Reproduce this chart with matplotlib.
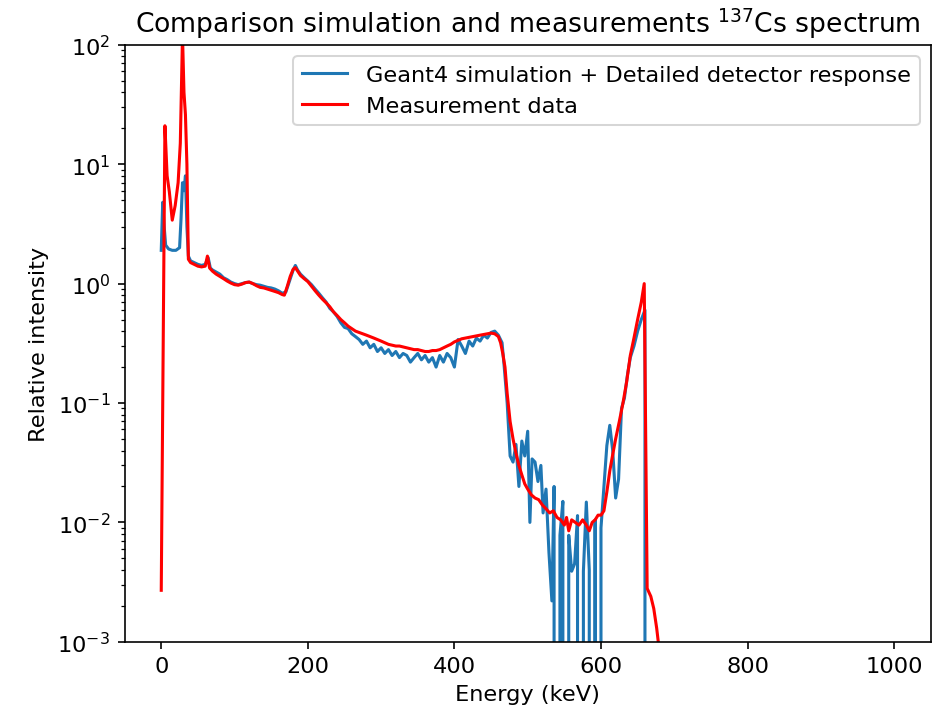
import numpy as np
import matplotlib
matplotlib.use('Agg')
import matplotlib.pyplot as plt

# Geant4 simulation, energy in keV
simEnergy = [0, 2, 4, 6, 10, 15, 20, 25, 27, 29, 31, 33, 35, 37, 40, 45, 50, 55, 60, 64, 67,
             70, 75, 80, 85, 90, 95, 100, 105, 110, 115, 120, 125, 130, 135, 140, 145, 150,
             155, 160, 165, 170, 175, 180, 183, 186, 190, 195, 200, 205, 210, 215, 220, 225,
             230, 235, 240, 245, 250, 255, 260, 265, 270, 275, 280, 285, 290, 295, 300, 305,
             310, 315, 320, 325, 330, 335, 340, 345, 350, 355, 360, 365, 370, 375, 380, 385,
             390, 395, 400, 405, 410, 415, 420, 425, 430, 435, 440, 445, 450, 455, 460, 465,
             468, 472, 476, 480, 484, 488, 492, 496, 500, 503, 506, 510, 514, 518, 521, 525,
             529, 533, 536, 540, 544, 548, 552, 556, 560, 564, 568, 572, 576, 580, 584, 588,
             592, 596, 600, 604, 608, 612, 616, 620, 624, 628, 632, 636, 640, 645, 650, 655,
             660, 663, 1000]
simIntensity = [1.9, 4.8, 3.0, 2.1, 1.95, 1.9, 1.9, 2.0, 3.5, 7.0, 6.0, 8.0, 3.0, 1.7, 1.55,
                1.5, 1.45, 1.42, 1.45, 1.65, 1.35, 1.3, 1.25, 1.2, 1.12, 1.08, 1.03, 1.0, 0.98,
                1.0, 1.02, 1.03, 1.0, 0.98, 0.97, 0.95, 0.93, 0.92, 0.9, 0.87, 0.83, 0.85, 1.05,
                1.3, 1.42, 1.3, 1.2, 1.12, 1.05, 0.98, 0.9, 0.83, 0.76, 0.7, 0.62, 0.58, 0.53,
                0.47, 0.43, 0.42, 0.38, 0.36, 0.34, 0.31, 0.33, 0.29, 0.31, 0.27, 0.29, 0.26,
                0.28, 0.25, 0.27, 0.24, 0.26, 0.25, 0.22, 0.24, 0.26, 0.23, 0.25, 0.22, 0.24,
                0.2, 0.25, 0.22, 0.26, 0.24, 0.2, 0.34, 0.3, 0.26, 0.33, 0.3, 0.35, 0.33, 0.37,
                0.35, 0.39, 0.4, 0.37, 0.32, 0.2, 0.1, 0.036, 0.032, 0.045, 0.02, 0.048, 0.036,
                0.058, 0.01, 0.034, 0.032, 0.022, 0.03, 0.012, 0.019, 0.0056, 0.0022, 0.02, 0,
                0.0078, 0.015, 0, 0.0078, 0.0039, 0.0045, 0.0114, 0, 0.0039, 0.0148, 0.004, 0,
                0.0105, 0, 0.009, 0.02, 0.044, 0.065, 0.04, 0.016, 0.023, 0.09, 0.11, 0.17,
                0.24, 0.3, 0.4, 0.5, 0.6, 0, 0]

# measurement
measEnergy = [0, 5, 8, 11, 13, 15, 19, 23, 26, 29, 31, 33, 35, 37, 40, 45, 50, 55, 60, 63,
              66, 70, 75, 80, 85, 90, 95, 100, 105, 110, 115, 120, 125, 130, 135, 140, 145,
              150, 155, 160, 165, 168, 172, 176, 180, 183, 187, 190, 195, 200, 205, 210, 215,
              220, 225, 230, 235, 240, 245, 250, 255, 260, 265, 270, 275, 280, 285, 290, 295,
              300, 305, 310, 315, 320, 325, 330, 335, 340, 345, 350, 355, 360, 365, 370, 375,
              380, 385, 390, 395, 400, 405, 410, 415, 420, 425, 430, 435, 440, 445, 450, 455,
              460, 463, 466, 469, 472, 476, 480, 484, 488, 492, 496, 500, 505, 510, 515, 520,
              525, 530, 535, 540, 545, 550, 553, 556, 560, 565, 570, 575, 580, 584, 588, 592,
              596, 600, 604, 608, 612, 616, 620, 625, 630, 635, 640, 645, 650, 655, 659, 663,
              668, 672, 676, 680, 1000]
measIntensity = [0.0027, 21, 8, 5.9, 4.5, 3.4, 4.5, 7, 15, 120, 40, 26, 10, 1.6, 1.5, 1.45,
                 1.4, 1.38, 1.4, 1.7, 1.35, 1.27, 1.2, 1.15, 1.1, 1.05, 1.01, 0.98, 0.97, 0.99,
                 1.02, 1.03, 1.0, 0.96, 0.93, 0.92, 0.9, 0.88, 0.86, 0.84, 0.81, 0.8, 0.95, 1.15,
                 1.32, 1.36, 1.25, 1.17, 1.1, 1.04, 0.95, 0.87, 0.8, 0.74, 0.69, 0.64, 0.58,
                 0.54, 0.5, 0.47, 0.44, 0.42, 0.4, 0.39, 0.38, 0.37, 0.36, 0.35, 0.34, 0.33,
                 0.32, 0.31, 0.305, 0.3, 0.3, 0.295, 0.29, 0.285, 0.28, 0.28, 0.275, 0.27, 0.27,
                 0.275, 0.275, 0.28, 0.29, 0.3, 0.31, 0.325, 0.335, 0.345, 0.35, 0.355, 0.36,
                 0.365, 0.37, 0.375, 0.38, 0.385, 0.38, 0.36, 0.32, 0.26, 0.2, 0.12, 0.07, 0.05,
                 0.038, 0.03, 0.025, 0.021, 0.019, 0.017, 0.016, 0.0155, 0.014, 0.013, 0.012,
                 0.0125, 0.011, 0.0105, 0.0095, 0.011, 0.0085, 0.0105, 0.01, 0.0095, 0.0105,
                 0.0095, 0.0085, 0.01, 0.0105, 0.0115, 0.0115, 0.0125, 0.018, 0.027, 0.037,
                 0.05, 0.07, 0.1, 0.15, 0.25, 0.35, 0.5, 0.7, 1.0, 0.0028, 0.0024, 0.0019,
                 0.0013, 0.0008, 0]

plt.rcParams['font.size'] = 11

fig = plt.figure(figsize=(6.4, 4.847), dpi=147.5)
ax = fig.add_subplot(111)
fig.subplots_adjust(left=0.132, right=0.986, top=0.936, bottom=0.101)

ax.plot(simEnergy, simIntensity, color='#1f77b4', label='Geant4 simulation + Detailed detector response')
ax.plot(measEnergy, measIntensity, color='red', label='Measurement data')
ax.set_yscale('log')
ax.set_ylim(1e-3, 1e2)

ax.set_title('Comparison simulation and measurements $^{137}$Cs spectrum', fontsize=13)
ax.set_xlabel('Energy (keV)')
ax.set_ylabel('Relative intensity')
ax.legend(loc='upper right')

fig.savefig('out.png', dpi=147.5)
